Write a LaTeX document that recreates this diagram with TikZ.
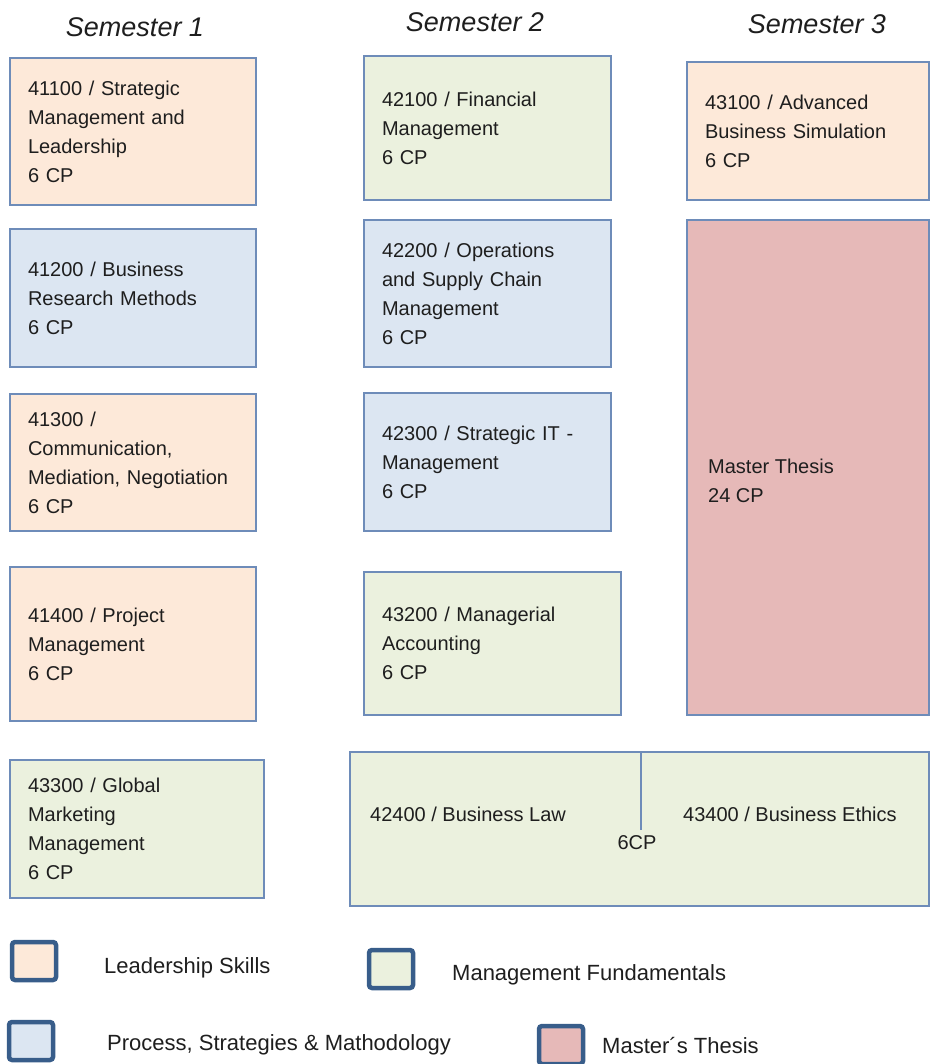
\documentclass[tikz,border=0pt]{standalone}
\usepackage{fontspec}
\setmainfont{Liberation Sans}
\definecolor{peach}{HTML}{FDE9D9}
\definecolor{bluef}{HTML}{DCE6F2}
\definecolor{greenf}{HTML}{EBF1DE}
\definecolor{pinkf}{HTML}{E6B9B8}
\definecolor{boxline}{RGB}{110,140,185}
\definecolor{legline}{HTML}{385D8A}
\definecolor{txt}{HTML}{1E1E1E}
\tikzset{
  course/.style={draw=boxline, line width=1.5pt, rectangle, inner sep=0pt, align=left,
    text=txt, font=\fontsize{20}{29}\selectfont},
  heading/.style={text=txt, font=\fontsize{27}{30}\selectfont\itshape},
  legbox/.style={draw=legline, line width=4.5pt, rounded corners=3pt, minimum width=44pt, minimum height=38pt, inner sep=0pt},
  legtext/.style={anchor=west, text=txt, font=\fontsize{22}{26}\selectfont, inner sep=0pt},
  plain/.style={text=txt, font=\fontsize{20}{29}\selectfont, inner sep=0pt}
}
\begin{document}
\begin{tikzpicture}[x=1pt,y=-1pt]
\useasboundingbox (0,0) rectangle (931,1064);
% headings
\node[heading] (h1) at (135,27) {Semester 1};
\node[heading] (h2) at (475,22) {Semester 2};
\node[heading] (h3) at (817,24) {Semester 3};
% semester 1
\node[course, fill=peach, minimum width=246pt, minimum height=147pt, text width=210pt] (c41100) at (133,131.5) {41100 / Strategic\\Management and\\Leadership\\6 CP};
\node[course, fill=bluef, minimum width=246pt, minimum height=138pt, text width=210pt] (c41200) at (133,298) {41200 / Business\\Research Methods\\6 CP};
\node[course, fill=peach, minimum width=246pt, minimum height=137pt, text width=210pt] (c41300) at (133,462.5) {41300 /\\Communication,\\Mediation, Negotiation\\6 CP};
\node[course, fill=peach, minimum width=246pt, minimum height=154pt, text width=210pt] (c41400) at (133,644) {41400 / Project\\Management\\6 CP};
\node[course, fill=greenf, minimum width=254pt, minimum height=138pt, text width=218pt] (c43300) at (137,829) {43300 / Global\\Marketing\\Management\\6 CP};
% semester 2
\node[course, fill=greenf, minimum width=247pt, minimum height=144pt, text width=211pt] (c42100) at (487.5,128) {42100 / Financial\\Management\\6 CP};
\node[course, fill=bluef, minimum width=247pt, minimum height=147pt, text width=211pt] (c42200) at (487.5,293.5) {42200 / Operations\\and Supply Chain\\Management\\6 CP};
\node[course, fill=bluef, minimum width=247pt, minimum height=138pt, text width=211pt] (c42300) at (487.5,462) {42300 / Strategic IT -\\Management\\6 CP};
\node[course, fill=greenf, minimum width=257pt, minimum height=143pt, text width=221pt] (c43200) at (492.5,643.5) {43200 / Managerial\\Accounting\\6 CP};
% semester 3
\node[course, fill=peach, minimum width=242pt, minimum height=138pt, text width=206pt] (c43100) at (808,131) {43100 / Advanced\\Business Simulation\\6 CP};
\node[course, fill=pinkf, minimum width=242pt, minimum height=495pt] (thesis) at (808,467.5) {};
\node[plain, anchor=west, align=left] (thesistxt) at (708,481) {Master Thesis\\24 CP};
% bottom combined box
\node[course, fill=greenf, minimum width=579pt, minimum height=154pt] (law) at (639.5,829) {};
\coordinate (divend) at (641,830);
\draw[boxline, line width=1.5pt] (divend |- law.north) -- (divend);
\node[plain, anchor=west] (lawtxt) at (370,814) {42400 / Business Law};
\node[plain, anchor=west] (ethtxt) at (683,814) {43400 / Business Ethics};
\node[plain] (cp) at (637,843) {6CP};
% legend
\node[legbox, fill=peach] (l1) at (34,961) {};
\node[legtext] (t1) at (104,968) {Leadership Skills};
\node[legbox, fill=greenf] (l2) at (391,969) {};
\node[legtext] (t2) at (452,975) {Management Fundamentals};
\node[legbox, fill=bluef] (l3) at (31,1041) {};
\node[legtext] (t3) at (107,1045) {Process, Strategies \& Mathodology};
\node[legbox, fill=pinkf] (l4) at (561,1045) {};
\node[legtext] (t4) at (602,1045) {Master´s Thesis};
\end{tikzpicture}
\end{document}
